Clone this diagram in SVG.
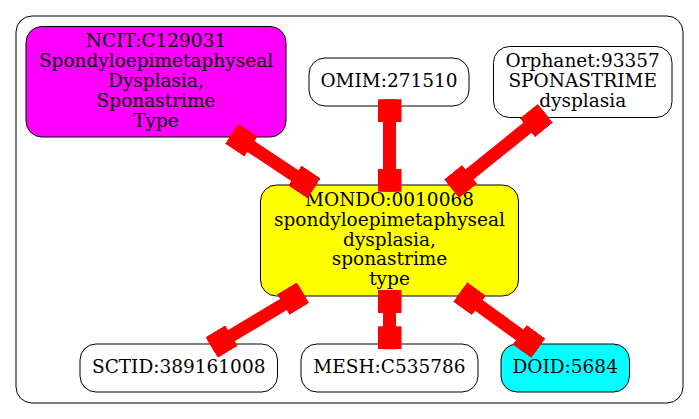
<svg xmlns="http://www.w3.org/2000/svg" width="699" height="419" viewBox="0 0 699 419">
<style>
.n{stroke:#000;stroke-width:1}
.w{fill:#fff}
text{font-family:"DejaVu Serif","Liberation Serif",serif;font-size:18.5px;text-anchor:middle;fill:#000}
.e{stroke:#f00;stroke-width:13;fill:none;marker-start:url(#tee);marker-end:url(#tee)}
</style>
<defs>
<marker id="tee" viewBox="-23 -12 23 24" refX="0" refY="0" markerWidth="23" markerHeight="24" markerUnits="userSpaceOnUse" orient="auto-start-reverse">
<rect x="-23" y="-12" width="23" height="24" fill="#f00"/>
</marker>
</defs>
<rect width="699" height="419" fill="#fff"/>
<rect id="cluster" x="16" y="16" width="667" height="387" rx="16" fill="#fff" stroke="#000" stroke-width="1"/>
<g id="ncit">
<rect class="n" x="26" y="26.5" width="260" height="110.5" rx="16" fill="#f0f"/>
<text x="156" y="47">NCIT:C129031</text>
<text x="156" y="67">Spondyloepimetaphyseal</text>
<text x="156" y="87">Dysplasia,</text>
<text x="156" y="107">Sponastrime</text>
<text x="156" y="127">Type</text>
</g>
<g id="omim">
<rect class="n w" x="309" y="58" width="160" height="48" rx="16"/>
<text x="389" y="87">OMIM:271510</text>
</g>
<g id="orphanet">
<rect class="n w" x="493.5" y="46.5" width="178.5" height="71" rx="16"/>
<text x="582.7" y="67">Orphanet:93357</text>
<text x="582.7" y="87">SPONASTRIME</text>
<text x="582.7" y="107">dysplasia</text>
</g>
<g id="mondo">
<rect class="n" x="260.5" y="185" width="258" height="111" rx="16" fill="#ff0"/>
<text x="389.5" y="206">MONDO:0010068</text>
<text x="389.5" y="226">spondyloepimetaphyseal</text>
<text x="389.5" y="245.5">dysplasia,</text>
<text x="389.5" y="265">sponastrime</text>
<text x="389.5" y="285">type</text>
</g>
<g id="sctid">
<rect class="n w" x="80" y="344" width="197.5" height="48" rx="16"/>
<text x="178.7" y="373">SCTID:389161008</text>
</g>
<g id="mesh">
<rect class="n w" x="301" y="344" width="177" height="48" rx="16"/>
<text x="389.5" y="373">MESH:C535786</text>
</g>
<g id="doid">
<rect class="n" x="501" y="344" width="128.5" height="48" rx="16" fill="#0ff"/>
<text x="565.2" y="373">DOID:5684</text>
</g>
<g id="edges">
<path class="e" d="M231.8,133.8 L314,188.3"/>
<path class="e" d="M389.5,99.3 L389.5,191.7"/>
<path class="e" d="M545.3,113.3 L451.7,188.8"/>
<path class="e" d="M303,292.7 L211.7,347.5"/>
<path class="e" d="M389.5,290 L389.5,349.3"/>
<path class="e" d="M460.3,292 L538.3,348.3"/>
</g>
</svg>
